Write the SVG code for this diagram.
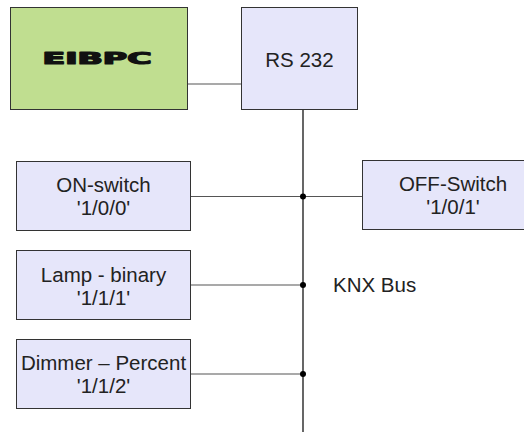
<svg xmlns="http://www.w3.org/2000/svg" width="524" height="432" viewBox="0 0 524 432">
<style>
.box{fill:#e6e6fa;stroke:#333;stroke-width:1}
.green{fill:#c0de90;stroke:#333;stroke-width:1}
.t{font-family:"Liberation Sans",Arial,sans-serif;font-size:20.5px;fill:#222;text-anchor:middle}
.c{stroke:#555;stroke-width:1.2;fill:none}
.bus{stroke:#000;stroke-width:1.2;fill:none}
.dot{fill:#000}
</style>
<rect width="524" height="432" fill="#fff"/>
<g id="connectors">
<line class="c" x1="188" y1="84" x2="242" y2="84"/>
<line class="bus" x1="303" y1="110" x2="303" y2="432"/>
<line class="c" x1="191" y1="196.5" x2="362" y2="196.5"/>
<line class="c" x1="191" y1="285" x2="303" y2="285"/>
<line class="c" x1="191" y1="374" x2="303" y2="374"/>
<circle class="dot" cx="303" cy="196.5" r="3"/>
<circle class="dot" cx="303" cy="285" r="3"/>
<circle class="dot" cx="303" cy="374" r="3"/>
</g>
<g id="eibpc">
<rect class="green" x="10.5" y="7.5" width="177" height="102"/>
<text x="42.5" y="63.5" font-family="'DejaVu Sans',sans-serif" font-weight="900" font-size="15" fill="#111" stroke="#111" stroke-width="1.2" stroke-linejoin="round" textLength="109" lengthAdjust="spacingAndGlyphs">EIBPC</text>
</g>
<g id="rs232">
<rect class="box" x="241.5" y="7.5" width="116" height="102"/>
<text class="t" x="299.5" y="66.5">RS 232</text>
</g>
<g id="on-switch">
<rect class="box" x="16.5" y="161.5" width="174" height="69"/>
<text class="t" x="103.5" y="192">ON-switch</text>
<text class="t" x="103.5" y="215">'1/0/0'</text>
</g>
<g id="off-switch">
<rect class="box" x="362.5" y="160.5" width="182" height="69"/>
<text class="t" x="453" y="191">OFF-Switch</text>
<text class="t" x="453" y="214">'1/0/1'</text>
</g>
<g id="lamp">
<rect class="box" x="16.5" y="250.5" width="174" height="69"/>
<text class="t" x="103.5" y="281.5">Lamp - binary</text>
<text class="t" x="103.5" y="304.5">'1/1/1'</text>
</g>
<g id="dimmer">
<rect class="box" x="16.5" y="339.5" width="174" height="69"/>
<text class="t" x="103.5" y="370">Dimmer – Percent</text>
<text class="t" x="103.5" y="393">'1/1/2'</text>
</g>
<g id="knx-label">
<text class="t" x="333" y="291.5" style="text-anchor:start">KNX Bus</text>
</g>
</svg>
